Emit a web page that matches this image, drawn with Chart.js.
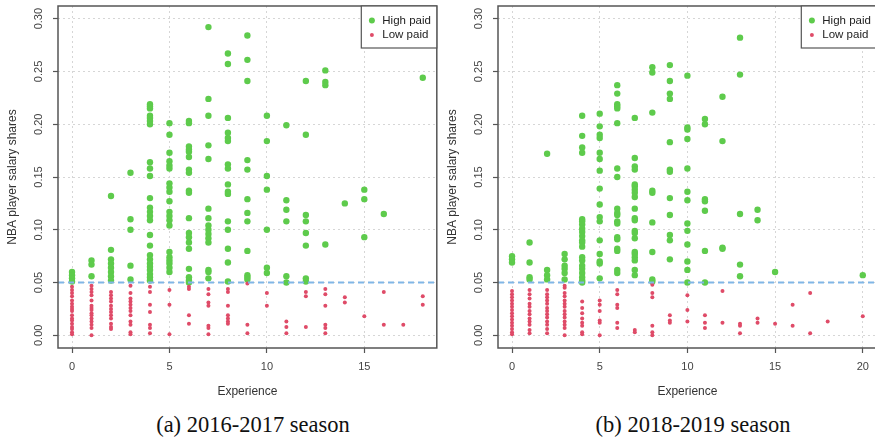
<html>
  <head>
    <title>NBA salary shares</title>
    <script src="https://cdn.jsdelivr.net/npm/chart.js@4.4.0/dist/chart.umd.min.js"></script>
    <style>
      body { margin: 0; width: 875px; height: 440px; overflow: hidden; background: #fff; position: relative; }
      .panel { position: absolute; top: 0; width: 440px; height: 405px; }
      .caption { position: absolute; top: 412px; width: 440px; text-align: center;
                 font-family: "Liberation Serif", "Times New Roman", serif; font-size: 22.5px; color: #111; }
    </style>
  </head>

  <body>
    <div class="panel" style="left: 0px"><canvas id="left-chart"></canvas></div>
    <div class="panel" style="left: 440px"><canvas id="right-chart"></canvas></div>
    <div class="caption" style="left: 33px">(a) 2016-2017 season</div>
    <div class="caption" style="left: 473px">(b) 2018-2019 season</div>
  </body>

  <script>
    // salary shares per player, listed by years of experience (index = experience)
    var high2016 = [
      [0.060, 0.057, 0.054, 0.051],
      [0.071, 0.067, 0.056],
      [0.132, 0.081, 0.072, 0.068, 0.064, 0.060, 0.056, 0.052],
      [0.154, 0.110, 0.100, 0.066, 0.053],
      [0.219, 0.217, 0.215, 0.208, 0.206, 0.203, 0.200, 0.164, 0.158, 0.151, 0.130, 0.121, 0.117, 0.113, 0.109, 0.095, 0.085, 0.076, 0.072, 0.068, 0.065, 0.062, 0.058, 0.055, 0.052],
      [0.201, 0.190, 0.173, 0.165, 0.161, 0.158, 0.144, 0.140, 0.136, 0.127, 0.117, 0.113, 0.109, 0.104, 0.079, 0.074, 0.071, 0.068, 0.064, 0.060],
      [0.203, 0.201, 0.179, 0.176, 0.174, 0.169, 0.157, 0.154, 0.137, 0.135, 0.111, 0.097, 0.093, 0.088, 0.082, 0.063, 0.055, 0.052, 0.050],
      [0.292, 0.224, 0.208, 0.180, 0.167, 0.120, 0.111, 0.104, 0.100, 0.096, 0.092, 0.088, 0.062, 0.060, 0.054],
      [0.267, 0.257, 0.206, 0.192, 0.187, 0.184, 0.162, 0.158, 0.143, 0.136, 0.134, 0.108, 0.100, 0.082, 0.069, 0.051],
      [0.284, 0.261, 0.241, 0.166, 0.157, 0.129, 0.116, 0.108, 0.080, 0.057, 0.055, 0.053],
      [0.208, 0.184, 0.151, 0.138, 0.100, 0.064, 0.059],
      [0.199, 0.128, 0.119, 0.108, 0.056, 0.050],
      [0.241, 0.190, 0.114, 0.108, 0.097, 0.085, 0.054, 0.051],
      [0.251, 0.240, 0.237, 0.086],
      [0.125],
      [0.138, 0.129, 0.093],
      [0.115],
      [],
      [0.244]
    ];
    var low2016 = [
      [0.046, 0.043, 0.040, 0.037, 0.033, 0.030, 0.027, 0.025, 0.023, 0.019, 0.016, 0.014, 0.011, 0.008, 0.006, 0.003, 0.001],
      [0.047, 0.044, 0.041, 0.038, 0.033, 0.028, 0.026, 0.024, 0.021, 0.019, 0.016, 0.013, 0.010, 0.007, 0.000],
      [0.041, 0.038, 0.035, 0.032, 0.028, 0.025, 0.022, 0.019, 0.016, 0.011, 0.008, 0.006],
      [0.047, 0.040, 0.035, 0.032, 0.029, 0.026, 0.023, 0.019, 0.013, 0.010, 0.003, 0.001],
      [0.046, 0.041, 0.029, 0.022, 0.010, 0.007, 0.002],
      [0.043, 0.029, 0.001],
      [0.046, 0.044, 0.019, 0.011],
      [0.044, 0.039, 0.031, 0.028, 0.009, 0.007, 0.001],
      [0.044, 0.041, 0.028, 0.019, 0.016, 0.013, 0.011],
      [0.049, 0.010, 0.002],
      [0.040, 0.028],
      [0.013, 0.008, 0.002],
      [0.041, 0.037, 0.008],
      [0.044, 0.039, 0.028, 0.010, 0.007, 0.002],
      [0.036, 0.031],
      [0.018],
      [0.041, 0.010],
      [0.010],
      [0.037, 0.029]
    ];
    var high2018 = [
      [0.075, 0.072, 0.069],
      [0.088, 0.069, 0.055, 0.053],
      [0.172, 0.062, 0.057, 0.053],
      [0.077, 0.072, 0.066, 0.063, 0.059, 0.053],
      [0.208, 0.189, 0.178, 0.173, 0.110, 0.108, 0.105, 0.101, 0.098, 0.094, 0.090, 0.088, 0.084, 0.074, 0.071, 0.066, 0.063, 0.059, 0.055, 0.052, 0.050],
      [0.210, 0.198, 0.190, 0.187, 0.173, 0.167, 0.156, 0.139, 0.124, 0.112, 0.108, 0.090, 0.077, 0.070, 0.068, 0.054],
      [0.237, 0.229, 0.219, 0.217, 0.215, 0.201, 0.158, 0.150, 0.120, 0.116, 0.114, 0.108, 0.106, 0.093, 0.091, 0.082, 0.080, 0.062, 0.059],
      [0.206, 0.168, 0.160, 0.157, 0.143, 0.141, 0.138, 0.135, 0.131, 0.120, 0.111, 0.109, 0.099, 0.097, 0.092, 0.079, 0.077, 0.074, 0.071, 0.062, 0.057],
      [0.254, 0.249, 0.211, 0.137, 0.135, 0.107, 0.079, 0.053, 0.051],
      [0.256, 0.241, 0.229, 0.224, 0.183, 0.157, 0.155, 0.130, 0.114, 0.095, 0.090, 0.072],
      [0.246, 0.197, 0.195, 0.186, 0.158, 0.136, 0.128, 0.106, 0.099, 0.086, 0.070, 0.062, 0.050],
      [0.205, 0.200, 0.129, 0.127, 0.118, 0.080, 0.050],
      [0.226, 0.184, 0.083, 0.082],
      [0.282, 0.247, 0.115, 0.067, 0.056],
      [0.119, 0.109],
      [0.060],
      [], [], [], [],
      [0.057]
    ];
    var low2018 = [
      [0.042, 0.039, 0.036, 0.033, 0.030, 0.027, 0.024, 0.021, 0.018, 0.015, 0.012, 0.009, 0.006, 0.003, 0.001],
      [0.043, 0.039, 0.035, 0.030, 0.027, 0.023, 0.020, 0.016, 0.013, 0.010, 0.005, 0.002],
      [0.043, 0.039, 0.036, 0.033, 0.030, 0.026, 0.023, 0.020, 0.017, 0.013, 0.010, 0.006, 0.002],
      [0.047, 0.045, 0.040, 0.037, 0.033, 0.030, 0.027, 0.023, 0.020, 0.017, 0.013, 0.010, 0.007, 0.000],
      [0.032, 0.026, 0.021, 0.016, 0.012, 0.009, 0.003, 0.001],
      [0.033, 0.029, 0.023, 0.014, 0.012, 0.000],
      [0.043, 0.039, 0.029, 0.026, 0.012, 0.007],
      [0.005, 0.003],
      [0.048, 0.040, 0.036, 0.009, 0.003, 0.000],
      [0.019, 0.014, 0.012],
      [0.038, 0.024, 0.013],
      [0.019, 0.012, 0.007],
      [0.042, 0.012],
      [0.011, 0.009, 0.002],
      [0.016, 0.012],
      [0.011],
      [0.029, 0.009],
      [0.040, 0.002],
      [0.013],
      [],
      [0.018]
    ];

    var cutoff = 0.05;
    var yTicks = [0, 0.05, 0.10, 0.15, 0.20, 0.25, 0.30];
    var xTicks2016 = [0, 5, 10, 15];
    var xTicks2018 = [0, 5, 10, 15, 20];
    var xRange2016 = [-0.72, 18.72];
    var xRange2018 = [-0.8, 20.8];
    var yRange = [-0.012, 0.312];

    var GREEN = "#5ecb4c";
    var RED = "#df4b68";
    var FONT = '"Liberation Sans", Arial, sans-serif';

    function toPoints(byExp) {
      var pts = [];
      byExp.forEach(function(ys, exp) {
        ys.forEach(function(v) { pts.push({x: exp, y: v}); });
      });
      return pts;
    }

    // box, tick labels, axis titles and legend, R style
    var rDecor = {
      id: 'rDecor',
      afterDraw: function(chart) {
        var ctx = chart.ctx, a = chart.chartArea, xs = chart.scales.x, ys = chart.scales.y;
        ctx.save();
        ctx.strokeStyle = "#555";
        ctx.lineWidth = 1.5;
        ctx.strokeRect(a.left, a.top, a.right - a.left, a.bottom - a.top);

        ctx.fillStyle = "#444";
        ctx.font = "11px " + FONT;
        ctx.textAlign = "center";
        ctx.textBaseline = "middle";
        yTicks.forEach(function(v) {
          ctx.save();
          ctx.translate(a.left - 19, ys.getPixelForValue(v));
          ctx.rotate(-Math.PI / 2);
          ctx.fillText(v.toFixed(2), 0, 0);
          ctx.restore();
        });
        chart.$xTicks.forEach(function(v) {
          ctx.fillText(String(v), xs.getPixelForValue(v), a.bottom + 19);
        });

        ctx.fillStyle = "#333";
        ctx.font = "12px " + FONT;
        ctx.fillText("Experience", (a.left + a.right) / 2, 392);
        ctx.save();
        ctx.translate(13, (a.top + a.bottom) / 2);
        ctx.rotate(-Math.PI / 2);
        ctx.fillText("NBA player salary shares", 0, 0);
        ctx.restore();

        // legend, top right corner
        var lw = 75.5, lh = 42, lx = a.right - lw, ly = a.top;
        ctx.fillStyle = "#fff";
        ctx.fillRect(lx, ly, lw, lh);
        ctx.strokeStyle = "#555";
        ctx.lineWidth = 1.2;
        ctx.strokeRect(lx, ly, lw, lh);
        ctx.fillStyle = GREEN;
        ctx.beginPath(); ctx.arc(lx + 10.6, ly + 14.5, 3, 0, 2 * Math.PI); ctx.fill();
        ctx.fillStyle = RED;
        ctx.beginPath(); ctx.arc(lx + 10.6, ly + 29, 2, 0, 2 * Math.PI); ctx.fill();
        ctx.fillStyle = "#222";
        ctx.textAlign = "left";
        ctx.font = "11.5px " + FONT;
        ctx.fillText("High paid", lx + 21, ly + 14.5);
        ctx.fillText("Low paid", lx + 21, ly + 29);
        ctx.restore();
      }
    };

    function makeChart(id, high, low, xTicks, xRange) {
      var chart = new Chart(document.getElementById(id), {
        type: 'scatter',
        data: {
          datasets: [
            {
              type: 'line',
              data: [{x: xRange[0], y: cutoff}, {x: xRange[1], y: cutoff}],
              borderColor: "#80b6e6",
              borderWidth: 2,
              borderDash: [6, 4],
              pointRadius: 0,
              order: 0
            },
            {
              label: "Low paid",
              data: toPoints(low),
              backgroundColor: RED,
              borderWidth: 0,
              pointRadius: 2,
              pointHoverRadius: 2,
              order: 1
            },
            {
              label: "High paid",
              data: toPoints(high),
              backgroundColor: GREEN,
              borderWidth: 0,
              pointRadius: 3.2,
              pointHoverRadius: 3.2,
              order: 2
            }
          ]
        },
        options: {
          responsive: false,
          animation: false,
          events: [],
          layout: { padding: { left: 58, top: 6, right: 2, bottom: 57 } },
          plugins: { legend: { display: false }, tooltip: { enabled: false } },
          scales: {
            x: {
              type: 'linear',
              min: xRange[0],
              max: xRange[1],
              afterBuildTicks: function(s) { s.ticks = xTicks.map(function(v) { return {value: v}; }); },
              afterFit: function(s) { s.height = 0; },
              ticks: { display: false },
              grid: { color: "#d6d6d6", tickColor: "#555", tickLength: 5, tickWidth: 1.2 },
              border: { display: false, dash: [2, 3] }
            },
            y: {
              type: 'linear',
              min: yRange[0],
              max: yRange[1],
              afterBuildTicks: function(s) { s.ticks = yTicks.map(function(v) { return {value: v}; }); },
              afterFit: function(s) { s.width = 0; },
              ticks: { display: false },
              grid: { color: "#d6d6d6", tickColor: "#555", tickLength: 5, tickWidth: 1.2 },
              border: { display: false, dash: [2, 3] }
            }
          }
        },
        plugins: [{ id: 'xTickList', beforeInit: function(c) { c.$xTicks = xTicks; } }, rDecor]
      });
      return chart;
    }

    document.getElementById('left-chart').width = 440;
    document.getElementById('left-chart').height = 405;
    document.getElementById('right-chart').width = 440;
    document.getElementById('right-chart').height = 405;
    makeChart('left-chart', high2016, low2016, xTicks2016, xRange2016);
    makeChart('right-chart', high2018, low2018, xTicks2018, xRange2018);
  </script>

</html>
